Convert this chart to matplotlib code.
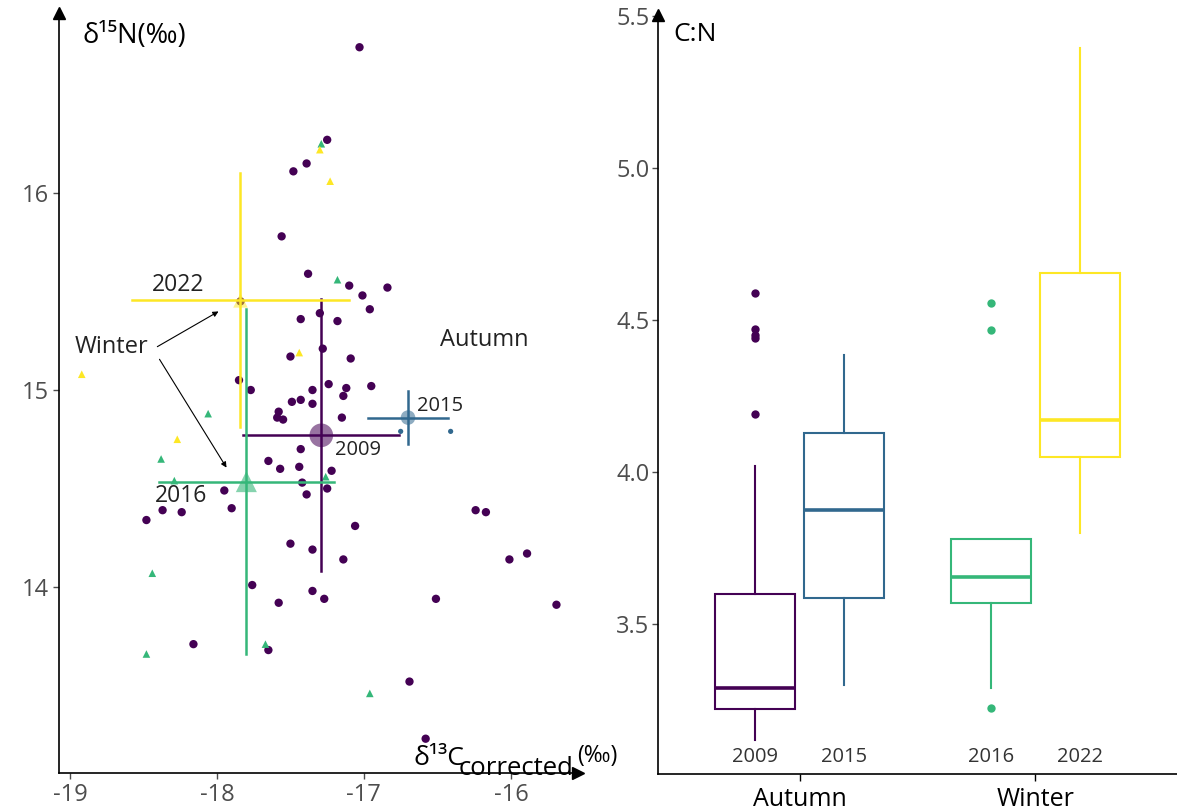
import matplotlib
matplotlib.use("Agg")
import matplotlib.pyplot as plt

plt.rcParams['font.family'] = ['Open Sans', 'DejaVu Sans']

# --- Step 1: data ---
# isotopes, one list per sampling year
x_2009 = [-17.03, -17.25, -17.48, -17.39, -17.56, -17.38, -17.10, -16.84, -17.01, -16.96,
          -17.30, -17.43, -17.18, -17.50, -17.28, -17.09, -17.85, -17.77, -17.24, -16.95,
          -17.12, -17.35, -17.14, -17.49, -17.43, -17.35, -17.58, -17.59, -17.55, -17.15,
          -17.43, -17.65, -17.57, -17.44, -17.22, -17.42, -17.25, -17.39, -17.95, -17.90,
          -18.48, -18.37, -18.24, -16.24, -16.17, -17.06, -17.50, -17.35, -17.14, -16.01,
          -15.89, -17.76, -17.35, -17.27, -17.58, -16.51, -15.69, -18.16, -17.65, -16.69,
          -16.58, -17.84]
y_2009 = [16.74, 16.27, 16.11, 16.15, 15.78, 15.59, 15.53, 15.52, 15.48, 15.41,
          15.39, 15.36, 15.35, 15.17, 15.21, 15.16, 15.05, 15.00, 15.03, 15.02,
          15.01, 15.00, 14.97, 14.94, 14.95, 14.93, 14.89, 14.86, 14.85, 14.86,
          14.70, 14.64, 14.60, 14.61, 14.59, 14.53, 14.50, 14.47, 14.49, 14.40,
          14.34, 14.39, 14.38, 14.39, 14.38, 14.31, 14.22, 14.19, 14.14, 14.14,
          14.17, 14.01, 13.98, 13.94, 13.92, 13.94, 13.91, 13.71, 13.68, 13.52,
          13.23, 15.45]
x_2015 = [-16.75, -16.41]
y_2015 = [14.79, 14.79]
x_2016 = [-17.29, -17.18, -18.06, -18.38, -17.26, -18.29, -18.44, -17.67, -18.48, -16.96]
y_2016 = [16.25, 15.56, 14.88, 14.65, 14.56, 14.54, 14.07, 13.71, 13.66, 13.46]
x_2022 = [-17.30, -17.23, -17.44, -18.92, -18.27]
y_2022 = [16.22, 16.06, 15.19, 15.08, 14.75]

# year means and standard deviations
mean_years = ["2009", "2015", "2016", "2022"]
mean_x = [-17.29, -16.70, -17.80, -17.84]
mean_y = [14.77, 14.86, 14.535, 15.455]
sd_x = [0.53, 0.27, 0.595, 0.74]
sd_y = [0.69, 0.135, 0.875, 0.645]

# C:N boxplots
box_years = ["2009", "2015", "2016", "2022"]
box_season = ["Autumn", "Autumn", "Winter", "Winter"]
box_q1 = [3.22, 3.585, 3.57, 4.05]
box_med = [3.29, 3.875, 3.655, 4.17]
box_q3 = [3.60, 4.13, 3.78, 4.655]
box_lo = [3.12, 3.30, 3.29, 3.80]
box_hi = [4.02, 4.385, 3.78, 5.395]
box_out = [[4.59, 4.47, 4.45, 4.44, 4.19], [], [4.556, 4.467, 3.224], []]

seasons = ["Autumn", "Winter"]

colors = {"2009": "#440154", "2015": "#31688E", "2016": "#35B779", "2022": "#FDE725"}
grey = "#4d4d4d"

fig = plt.figure(figsize=(11.77, 8.10), dpi=100)

# --- Step 2: isotope biplot ---
ax1 = fig.add_axes([0.0501, 0.0457, 0.4409, 0.9383])
ax1.scatter(x_2009, y_2009, s=36, color=colors["2009"], edgecolors="none", zorder=3)
ax1.scatter(x_2015, y_2015, s=14, color=colors["2015"], edgecolors="none", zorder=3)
ax1.scatter(x_2016, y_2016, s=30, marker="^", color=colors["2016"], edgecolors="none", zorder=3)
ax1.scatter(x_2022, y_2022, s=30, marker="^", color=colors["2022"], edgecolors="none", zorder=3)

mean_marker = {"2009": ("o", 290, 0.55), "2015": ("o", 110, 0.55),
               "2016": ("^", 230, 0.6), "2022": ("^", 110, 0.5)}
for yr, mx, my, sx, sy in zip(mean_years, mean_x, mean_y, sd_x, sd_y):
    c = colors[yr]
    m, s, a = mean_marker[yr]
    ax1.scatter([mx], [my], s=s, marker=m, color=c, alpha=a, edgecolors="none", zorder=4)
    ax1.plot([mx - sx, mx + sx], [my, my], color=c, lw=1.8, zorder=5)
    ax1.plot([mx, mx], [my - sy, my + sy], color=c, lw=1.8, zorder=5)

ax1.text(-18.265, 15.533, "2022", fontsize=16.5, color="#222222", ha="center", va="center")
ax1.text(-18.245, 14.462, "2016", fontsize=16.5, color="#222222", ha="center", va="center")
ax1.text(-17.04, 14.695, "2009", fontsize=14.5, color="#222222", ha="center", va="center")
ax1.text(-16.48, 14.919, "2015", fontsize=14.5, color="#222222", ha="center", va="center")
ax1.text(-18.72, 15.218, "Winter", fontsize=17, color="#222222", ha="center", va="center")
ax1.text(-16.18, 15.254, "Autumn", fontsize=17, color="#222222", ha="center", va="center")
ax1.annotate("", xy=(-17.973, 15.406), xytext=(-18.422, 15.213),
             arrowprops=dict(arrowstyle="-|>", color="black", lw=0.8, mutation_scale=8))
ax1.annotate("", xy=(-17.925, 14.594), xytext=(-18.401, 15.168),
             arrowprops=dict(arrowstyle="-|>", color="black", lw=0.8, mutation_scale=8))

ax1.set_xlim(-19.075, -15.544)
ax1.set_ylim(13.056, 16.914)
ax1.set_xticks([-19, -18, -17, -16])
ax1.set_xticklabels(["-19", "-18", "-17", "-16"])
ax1.set_yticks([14, 15, 16])
for side in ["top", "right"]:
    ax1.spines[side].set_visible(False)
for side in ["left", "bottom"]:
    ax1.spines[side].set_linewidth(1.2)
ax1.tick_params(labelsize=17, colors=grey, length=4, width=1, pad=3)
ax1.plot(0, 1, "^k", transform=ax1.transAxes, clip_on=False, markersize=8)
ax1.plot(1, 0, ">k", transform=ax1.transAxes, clip_on=False, markersize=8)

fig.text(0.0705, 0.9556, "δ¹⁵N(‰)", fontsize=19.5, ha="left", va="center")
fig.text(0.351, 0.0556, "δ¹³C", fontsize=19, ha="left", va="baseline")
fig.text(0.390, 0.0432, "corrected", fontsize=18.5, ha="left", va="baseline")
fig.text(0.490, 0.0595, "(‰)", fontsize=16.5, ha="left", va="baseline")

# --- Step 3: C:N boxplots ---
ax2 = fig.add_axes([0.559, 0.0444, 0.441, 0.9371])
offsets = {"2009": -0.19, "2015": 0.19, "2016": -0.19, "2022": 0.19}
for i, yr in enumerate(box_years):
    c = colors[yr]
    pos = seasons.index(box_season[i]) + 1 + offsets[yr]
    stats = [dict(med=box_med[i], q1=box_q1[i], q3=box_q3[i],
                  whislo=box_lo[i], whishi=box_hi[i], fliers=box_out[i])]
    ax2.bxp(stats, positions=[pos], widths=0.34, showcaps=False, patch_artist=True,
            boxprops=dict(facecolor="white", edgecolor=c, linewidth=1.5),
            medianprops=dict(color=c, linewidth=2.6),
            whiskerprops=dict(color=c, linewidth=1.5),
            flierprops=dict(marker="o", markerfacecolor=c, markeredgecolor="none", markersize=6))
    ax2.text(pos, 3.063, yr, fontsize=14.5, color="#333333", ha="center", va="center")

ax2.set_xlim(0.4, 2.6)
ax2.set_ylim(3.007, 5.503)
ax2.set_xticks([1, 2])
ax2.set_xticklabels(seasons, fontsize=18, color="black")
ax2.set_yticks([3.5, 4.0, 4.5, 5.0, 5.5])
ax2.set_yticklabels(["3.5", "4.0", "4.5", "5.0", "5.5"])
for side in ["top", "right"]:
    ax2.spines[side].set_visible(False)
for side in ["left", "bottom"]:
    ax2.spines[side].set_linewidth(1.2)
ax2.tick_params(axis="y", labelsize=17, colors=grey, length=4, width=1, pad=2)
ax2.tick_params(axis="x", length=5, width=1, pad=4, colors="black")
ax2.plot(0, 1, "^k", transform=ax2.transAxes, clip_on=False, markersize=8)

fig.text(0.5718, 0.9568, "C:N", fontsize=19, ha="left", va="center")

plt.savefig("out.png", dpi=100)
